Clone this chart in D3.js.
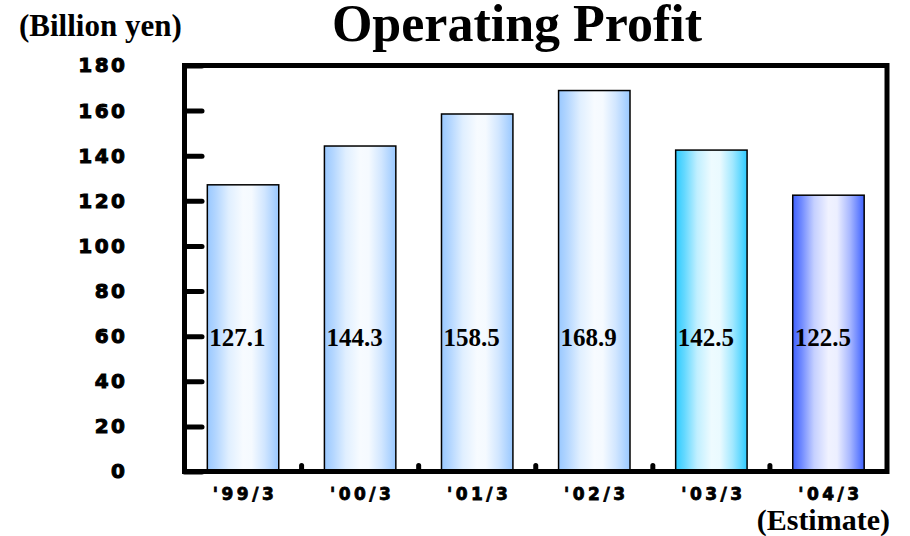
<!DOCTYPE html>
<meta charset="utf-8">
<style>
body { margin: 0; background: #fff; }
.frame { fill: none; stroke: #000; stroke-width: 5; }
.bar { stroke: #000; stroke-width: 1.5; }
.y-axis .tick line { stroke: #000; stroke-width: 5; stroke-linecap: round; }
.sep { stroke: #000; stroke-width: 5; stroke-linecap: round; }
.serif { font-family: "Liberation Serif", "Times New Roman", serif; font-weight: bold; fill: #000; }
</style>
<svg width="910" height="536"></svg>
<script src="https://d3js.org/d3.v7.min.js"></script>
<script>

var years = ["'99/3", "'00/3", "'01/3", "'02/3", "'03/3", "'04/3"];
var profit = [127.1, 144.3, 158.5, 168.9, 142.5, 122.5];
var yTicks = [0, 20, 40, 60, 80, 100, 120, 140, 160, 180];
var barEdge = ["#99c8ff", "#99c8ff", "#99c8ff", "#99c8ff", "#2ecbff", "#3f62ff"];

var svg = d3.select("svg");

var plotLeft = 184.5, plotRight = 887, plotTop = 65.5, plotBottom = 471.5;

var x = d3.scaleBand()
    .domain(years)
    .range([plotLeft, plotRight])
    .paddingInner(0.39)
    .paddingOuter(0.195);

var y = d3.scaleLinear()
    .domain([0, 180])
    .range([plotBottom, plotTop]);

// gradients, pale centre with coloured edges
var defs = svg.append("defs");
barEdge.forEach(function(c, i) {
  var g = defs.append("linearGradient")
      .attr("id", "grad" + i)
      .attr("x1", "0%").attr("x2", "100%").attr("y1", "0%").attr("y2", "0%");
  var mid = d3.interpolateRgb(c, "#fff");
  [[0, 0], [0.12, 0.25], [0.3, 0.7], [0.5, 0.92], [0.62, 0.9], [0.8, 0.55], [1, 0]].forEach(function(s) {
    g.append("stop").attr("offset", s[0]).attr("stop-color", mid(s[1]));
  });
});

svg.append("g")
  .selectAll("rect")
  .data(profit)
  .enter()
  .append("rect")
    .attr("class", "bar")
    .attr("x", function(d, i) { return x(years[i]); })
    .attr("y", function(d) { return y(d); })
    .attr("width", x.bandwidth())
    .attr("height", function(d) { return y(0) - y(d); })
    .attr("fill", function(d, i) { return "url(#grad" + i + ")"; });

svg.append("g")
  .selectAll("text")
  .data(profit)
  .enter()
  .append("text")
    .attr("class", "serif")
    .attr("x", function(d, i) { return x(years[i]) + 2; })
    .attr("y", 346)
    .style("font-size", "25px")
    .text(function(d) { return d.toFixed(1); });

// y axis, ticks pointing into the plot
var yAxis = svg.append("g")
    .attr("class", "y-axis")
    .attr("transform", "translate(" + plotLeft + ",0)")
    .call(d3.axisLeft(y).tickValues(yTicks).tickSizeInner(-17.5).tickSizeOuter(0).tickPadding(57));
yAxis.select(".domain").remove();
yAxis.selectAll(".tick line").attr("x2", 17.5);
yAxis.selectAll("text")
    .style("font-family", "'DejaVu Sans', sans-serif")
    .style("font-weight", "bold")
    .style("font-size", "20px")
    .style("letter-spacing", "2.5px")
    .style("stroke", "#000")
    .style("stroke-width", "1px");

var xAxis = svg.append("g")
    .attr("class", "x-axis")
    .attr("transform", "translate(0," + plotBottom + ")")
    .call(d3.axisBottom(x).tickSize(0).tickPadding(16));
xAxis.select(".domain").remove();
xAxis.selectAll("text")
    .attr("dx", "2px")
    .style("font-family", "'DejaVu Sans', sans-serif")
    .style("font-weight", "bold")
    .style("font-size", "17px")
    .style("letter-spacing", "3.5px")
    .style("stroke", "#000")
    .style("stroke-width", "0.8px");

// little separators between categories
svg.append("g")
  .selectAll("line")
  .data(years.slice(1))
  .enter()
  .append("line")
    .attr("class", "sep")
    .attr("x1", function(d) { return x(d) - x.step() * x.paddingInner() / 2; })
    .attr("x2", function(d) { return x(d) - x.step() * x.paddingInner() / 2; })
    .attr("y1", plotBottom - 6)
    .attr("y2", plotBottom - 3);

svg.append("rect")
    .attr("class", "frame")
    .attr("x", plotLeft)
    .attr("y", plotTop)
    .attr("width", plotRight - plotLeft)
    .attr("height", plotBottom - plotTop);

svg.append("text")
    .attr("class", "serif")
    .attr("x", 517)
    .attr("y", 41)
    .attr("text-anchor", "middle")
    .style("font-size", "52px")
    .text("Operating Profit");

svg.append("text")
    .attr("class", "serif")
    .attr("x", 19)
    .attr("y", 36)
    .style("font-size", "31px")
    .text("(Billion yen)");

svg.append("text")
    .attr("class", "serif")
    .attr("x", 890)
    .attr("y", 530)
    .attr("text-anchor", "end")
    .style("font-size", "30px")
    .text("(Estimate)");

</script>
